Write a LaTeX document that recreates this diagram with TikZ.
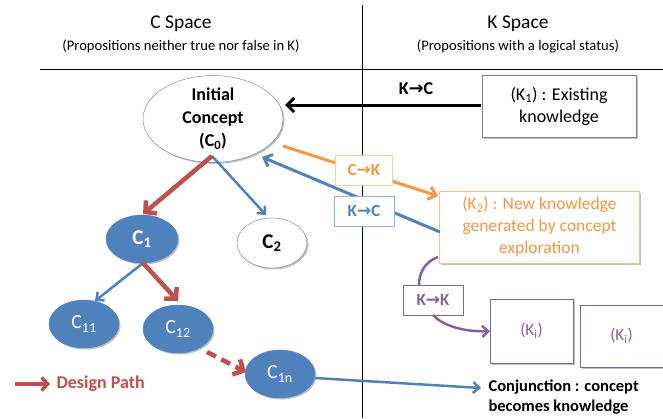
\documentclass[tikz,border=0pt]{standalone}
\usepackage{fontspec}
\setmainfont{Carlito}
\newfontfamily\arrfont{DejaVu Sans}
\usetikzlibrary{arrows.meta,shapes.geometric,shadows}
\definecolor{cblue}{HTML}{4F81BD}
\definecolor{cred}{HTML}{C0504D}
\definecolor{corange}{HTML}{F79646}
\definecolor{cpurple}{HTML}{8064A2}
\definecolor{cgrayb}{HTML}{7F7F7F}
\newcommand{\ar}{{\arrfont\bfseries →}}
\tikzset{
  shad/.style={drop shadow={shadow xshift=1.5pt,shadow yshift=-1.5pt,opacity=0.25,fill=black}},
  conc/.style={ellipse,inner sep=0pt,minimum width=70pt,minimum height=48pt,fill=cblue,draw=cblue,text=white,font=\fontsize{20}{22}\selectfont,shad},
  kbox/.style={draw,rectangle,fill=white,align=center,inner sep=2pt,shad},
  lbl/.style={draw,rectangle,fill=white,inner sep=0pt,minimum width=57pt,minimum height=30pt,font=\fontsize{17}{19}\selectfont\bfseries},
  openhead/.style={-{Straight Barb[length=6pt,width=11pt]}},
  redhead/.style={-{Straight Barb[length=8pt,width=17pt]}},
}
\begin{document}
\begin{tikzpicture}[x=1pt,y=-1pt]
\useasboundingbox (0,0) rectangle (663,418);
% frame lines
\coordinate (vt) at (362,5); \coordinate (vb) at (362,418);
\coordinate (hl) at (40,69); \coordinate (hr) at (663,69);
\draw[line width=0.8pt] (vt) -- (vb);
\draw[line width=0.8pt] (hl) -- (hr);
% headings
\node (cs) at (181,24) {\fontsize{19.5}{21}\selectfont C Space};
\node (csub) at (181,46) {\fontsize{14.6}{16}\selectfont (Propositions neither true nor false in K)};
\node (ks) at (518,24) {\fontsize{19.5}{21}\selectfont K Space};
\node (ksub) at (518,46) {\fontsize{14.6}{16}\selectfont (Propositions with a logical status)};
% concept nodes
\node[ellipse,draw=cblue!70!gray,fill=white,inner sep=0pt,minimum width=140pt,minimum height=74pt,align=center,font=\fontsize{18}{23}\selectfont\bfseries,shad] (c0) at (213,119) {Initial\\Concept\\(C\textsubscript{0})};
\node[conc,font=\fontsize{21}{22}\selectfont\bfseries,minimum width=72pt] (c1) at (142,239) {C\textsubscript{1}};
\node[conc,fill=white,draw=cblue!70!gray,text=black,font=\fontsize{21}{22}\selectfont\bfseries,minimum width=70pt,minimum height=50pt] (c2) at (272,243) {C\textsubscript{2}};
\node[conc] (c11) at (84,324) {C\textsubscript{11}};
\node[conc] (c12) at (178,329) {C\textsubscript{12}};
\node[conc] (c1n) at (280,374) {C\textsubscript{1n}};
% K boxes
\node[kbox,draw=cgrayb,minimum width=154pt,minimum height=62pt,font=\fontsize{18}{22}\selectfont] (k1) at (559,106) {(K\textsubscript{1}) : Existing\\knowledge};
\node[kbox,draw=corange!60,text=corange,minimum width=200pt,minimum height=72pt,font=\fontsize{17.5}{22}\selectfont] (k2) at (539.5,227) {(K\textsubscript{2}) : New knowledge\\generated by concept\\exploration};
\node[kbox,draw=cpurple,text=cpurple,minimum width=83pt,minimum height=64pt,font=\fontsize{17}{18}\selectfont] (ki1) at (531.5,331) {(K\textsubscript{i})};
\node[kbox,draw=cpurple,text=cpurple,minimum width=83pt,minimum height=62pt,font=\fontsize{17}{18}\selectfont] (ki2) at (621.5,336) {(K\textsubscript{i})};
% K->C black
\coordinate (k1w) at (481,105);
\coordinate (c0e) at (285,105);
\draw[line width=3pt,-{Straight Barb[length=7pt,width=14pt]}] (k1w) -- (c0e);
\node[font=\fontsize{18}{20}\selectfont\bfseries] (lkc1) at (416,89) {K\ar C};
% C->K orange
\coordinate (o1) at (283,146);
\coordinate (o2) at (438,196);
\draw[corange,line width=3pt,-{Straight Barb[length=7pt,width=13pt]}] (o1) -- (o2);
\node[lbl,draw=corange!50,text=corange] (lck) at (364,170) {C\ar K};
% K->C blue
\coordinate (b1) at (440,232);
\coordinate (b2) at (262,157);
\draw[cblue,line width=3pt,-{Straight Barb[length=7pt,width=13pt]}] (b1) -- (b2);
\node[lbl,draw=cblue!60,text=cblue,minimum width=60pt] (lkc2) at (364,211) {K\ar C};
% tree
\coordinate (c0b) at (212,156);
\coordinate (c1t) at (143,214);
\coordinate (c2t) at (266,215);
\draw[cblue,line width=2.5pt,openhead] (c0b) -- (c2t);
\draw[cred,line width=4.5pt,redhead] (c0b) -- (c1t);
\coordinate (c1b) at (143,263);
\coordinate (c11t) at (95,301);
\coordinate (c12t) at (178,301);
\draw[cblue,line width=2.5pt,openhead] (c1b) -- (c11t);
\draw[cred,line width=4.5pt,redhead] (c1b) -- (c12t);
\coordinate (c12b) at (207,352);
\coordinate (c1nw) at (246,372);
\draw[cred,line width=4.5pt,dash pattern=on 10pt off 6pt,redhead] (c12b) -- (c1nw);
% conjunction
\coordinate (c1ne) at (315,378);
\coordinate (cj) at (481,388);
\draw[cblue,line width=2.5pt,openhead] (c1ne) -- (cj);
\node[anchor=west,align=left,font=\fontsize{16.5}{20}\selectfont\bfseries] (conj) at (485,397) {Conjunction : concept\\becomes knowledge};
% K->K purple
\node[lbl,draw=cpurple,text=cpurple,minimum width=60pt] (lkk) at (433,300) {K\ar K};
\coordinate (p1) at (438,257);
\coordinate (p1e) at (419,285);
\draw[cpurple,line width=2.5pt] (p1) .. controls (424,262) and (419,274) .. (p1e);
\coordinate (p2) at (433,315);
\coordinate (p3) at (490,331);
\draw[cpurple,line width=2.5pt,openhead] (p2) .. controls (445,328) and (470,332) .. (p3);
% legend
\coordinate (lg1) at (15,384);
\coordinate (lg2) at (50,384);
\draw[cred,line width=3.5pt,-{Straight Barb[length=6pt,width=13pt]}] (lg1) -- (lg2);
\node[anchor=west,text=cred,font=\fontsize{18}{20}\selectfont\bfseries] (dp) at (53,384) {Design Path};
\end{tikzpicture}
\end{document}
